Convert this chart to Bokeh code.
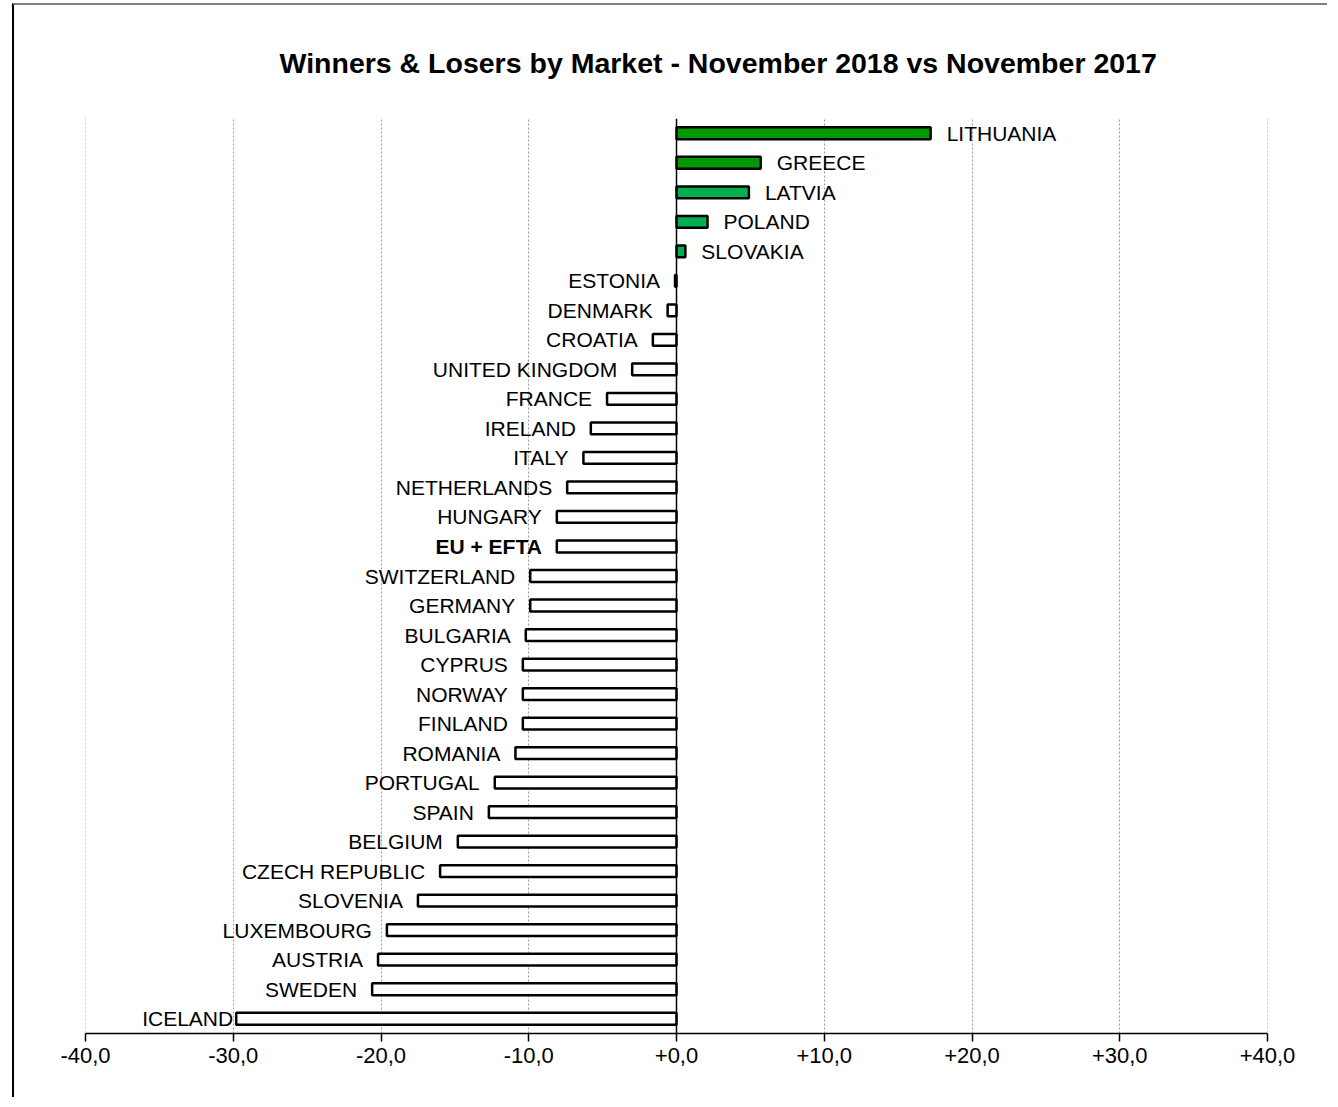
from bokeh.plotting import figure
from bokeh.models import FactorRange, FixedTicker, CustomJSTickFormatter, Span, ColumnDataSource
from bokeh.embed import file_html
from bokeh.resources import INLINE

countries = ["LITHUANIA", "GREECE", "LATVIA", "POLAND", "SLOVAKIA", "ESTONIA", "DENMARK",
             "CROATIA", "UNITED KINGDOM", "FRANCE", "IRELAND", "ITALY", "NETHERLANDS",
             "HUNGARY", "EU + EFTA", "SWITZERLAND", "GERMANY", "BULGARIA", "CYPRUS",
             "NORWAY", "FINLAND", "ROMANIA", "PORTUGAL", "SPAIN", "BELGIUM",
             "CZECH REPUBLIC", "SLOVENIA", "LUXEMBOURG", "AUSTRIA", "SWEDEN", "ICELAND"]
values = [17.2, 5.7, 4.9, 2.1, 0.6, -0.1, -0.6,
          -1.6, -3.0, -4.7, -5.8, -6.3, -7.4,
          -8.1, -8.1, -9.9, -9.9, -10.2, -10.4,
          -10.4, -10.4, -10.9, -12.3, -12.7, -14.8,
          -16.0, -17.5, -19.6, -20.2, -20.6, -29.8]
ticks = [-40, -30, -20, -10, 0, 10, 20, 30, 40]
title_text = "Winners & Losers by Market - November  2018 vs November 2017"

dark_green = "#009900"
light_green = "#00B050"
colors = []
for i, v in enumerate(values):
    if v >= 0:
        colors.append(dark_green if i < 2 else light_green)
    else:
        colors.append("white")

font = "Liberation Sans"

src = ColumnDataSource(dict(country=countries, value=values, color=colors))

p = figure(width=1315, height=1094, y_range=FactorRange(factors=countries[::-1]),
           x_range=(-40, 40), output_backend="svg", toolbar_location=None,
           min_border_left=71, min_border_right=62, min_border_top=113, min_border_bottom=66,
           title=title_text)
p.styles = {"margin-left": "12px", "margin-top": "3px",
            "border-left": "2px solid black", "border-top": "2px solid #808080"}
p.title.text_font = font
p.title.text_font_size = "28.5px"
p.title.text_font_style = "bold"
p.title.text_color = "black"
p.title.align = "left"
p.title.offset = 194
p.title.standoff = 79

for t in (-40, 40):
    p.add_layout(Span(location=t, dimension="height", line_color="#999999",
                      line_dash="2 2", line_width=1))

p.hbar(y="country", left=0, right="value", height=0.4, fill_color="color",
       line_color="black", line_width=2.5, source=src)

pos = [i for i, v in enumerate(values) if v >= 0]
neg = [i for i, v in enumerate(values) if v < 0]
pos_src = ColumnDataSource(dict(x=[values[i] for i in pos], y=[countries[i] for i in pos],
                                t=[countries[i] for i in pos]))
neg_src = ColumnDataSource(dict(x=[values[i] for i in neg], y=[countries[i] for i in neg],
                                t=[countries[i] for i in neg],
                                style=["bold" if countries[i] == "EU + EFTA" else "normal" for i in neg],
                                off=[-3 if countries[i] == "ICELAND" else -15 for i in neg]))
p.text(x="x", y="y", text="t", source=pos_src, text_align="left", text_baseline="middle",
       x_offset=16, text_font_size="21px", text_font={"value": font}, text_color="black")
p.text(x="x", y="y", text="t", source=neg_src, text_align="right", text_baseline="middle",
       x_offset="off", text_font_size="21px", text_font={"value": font}, text_color="black",
       text_font_style="style")

p.add_layout(Span(location=0, dimension="height", line_color="black", line_width=1.5))

p.yaxis.visible = False
p.ygrid.grid_line_color = None
p.xgrid.ticker = FixedTicker(ticks=ticks)
p.xgrid.grid_line_color = "#999999"
p.xgrid.grid_line_dash = "2 2"
p.xgrid.grid_line_width = 1
p.xaxis.ticker = FixedTicker(ticks=ticks)
p.xaxis.formatter = CustomJSTickFormatter(code="return (tick >= 0 ? '+' : '') + tick.toFixed(1).replace('.', ',');")
p.xaxis.major_tick_out = 8
p.xaxis.major_tick_in = 0
p.xaxis.minor_tick_line_color = None
p.xaxis.axis_line_width = 1.5
p.xaxis.axis_line_color = "black"
p.xaxis.major_tick_line_color = "black"
p.xaxis.major_tick_line_width = 1.5
p.xaxis.major_label_text_font = font
p.xaxis.major_label_text_font_size = "22px"
p.xaxis.major_label_text_color = "black"
p.xaxis.major_label_standoff = 6
p.outline_line_color = None
p.background_fill_color = "white"
p.border_fill_color = "white"

open("out.html", "w").write(file_html(p, INLINE))
